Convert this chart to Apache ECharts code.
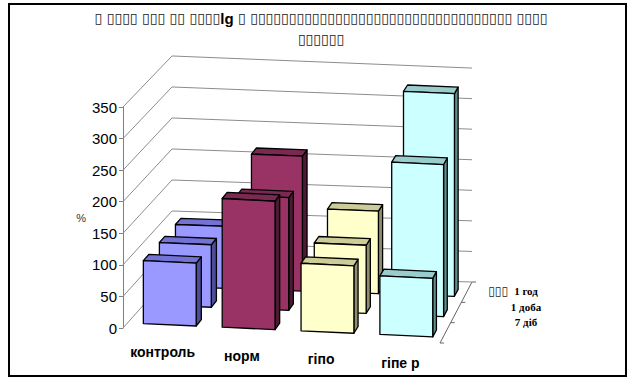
<!DOCTYPE html>
<html>
<head>
<meta charset="utf-8">
<script src="https://cdn.jsdelivr.net/npm/echarts@6/dist/echarts.min.js"></script>
<style>
  html, body { margin: 0; padding: 0; background: #fff; }
  #chart { width: 629px; height: 378px; }
</style>
</head>
<body>
<div id="chart"></div>
<script>
// ---- data -------------------------------------------------------------
const categories = ['контроль', 'норм', 'гіпо', 'гіпе р'];
const depthLabels = ['7 діб', '1 доба', '1 год'];      // front row -> back row
const values7d = [100, 205, 108, 94];
const values1d = [100, 181, 110, 246];
const values1h = [100, 218, 134, 330];
const yTicks = [0, 50, 100, 150, 200, 250, 300, 350];
const titleLine1 = '▯ ▯▯▯▯ ▯▯▯ ▯▯ ▯▯▯▯';
const titleLine1b = ' ▯ ▯▯▯▯▯▯▯▯▯▯▯▯▯▯▯▯▯▯▯▯▯▯▯▯▯▯▯▯▯▯▯▯▯▯ ▯▯▯▯';
const titleLine2 = '▯▯▯▯▯▯';

// ---- styling ----------------------------------------------------------
const frontColors = ['#9999FF', '#993366', '#FFFFCC', '#CCFFFF'];
const topColors   = ['#7373D6', '#7A2952', '#CCCC99', '#99CCCC'];
const sideColors  = ['#4D4D99', '#4D1A33', '#8F8F70', '#5F8F8F'];
const SANS = '"Liberation Sans", Arial, sans-serif';
const SERIF = '"Liberation Serif", "Times New Roman", serif';
const BOXFONT = '"DejaVu Sans", sans-serif';

// Oblique floor: the front edge drops a little to the right, the back
// edge sits up and to the right of it.
const FLOOR = { frontDrop: 15, backLeft: [49, -55], backRight: [32, -61] };
const ROWS = 3;

// px: x on the front plane (from the axis), h: bar height in px, d: depth in rows
function project(cs, px, h, d) {
  const gl = cs.x, gw = cs.width, gb = cs.y + cs.height;
  const X = (px - gl) / gw;
  const t = d / ROWS;
  const fx = gl + X * gw;
  const fy = gb + X * FLOOR.frontDrop;
  const bx = gl + FLOOR.backLeft[0] + X * (gw + FLOOR.backRight[0] - FLOOR.backLeft[0]);
  const by = gb + FLOOR.backLeft[1] + X * (FLOOR.frontDrop + FLOOR.backRight[1] - FLOOR.backLeft[1]);
  const k = 1 - 0.006 * d - 0.014 * X;
  return [fx + (bx - fx) * t, fy + (by - fy) * t - h * k];
}

function poly(points, fill) {
  return {
    type: 'polygon',
    shape: { points: points },
    style: { fill: fill, stroke: '#000', lineWidth: 1.3, lineJoin: 'round' }
  };
}

// one row of boxes; row 0 is the front row
function boxRenderer(row) {
  return function (params, api) {
    const cs = params.coordSys;
    const i = api.value(0);
    const top = api.coord([i, api.value(1)]);
    const base = api.coord([i, 0]);
    const slot = api.size([1, 0])[0];
    const h = base[1] - top[1];
    const x0 = top[0] - slot * 0.30, x1 = top[0] + slot * 0.37;
    const d0 = row + 0.28, d1 = row + 0.62;
    const P = (x, hh, d) => project(cs, x, hh, d);
    return {
      type: 'group',
      children: [
        poly([P(x1, 0, d0), P(x1, 0, d1), P(x1, h, d1), P(x1, h, d0)], sideColors[i]),
        poly([P(x0, h, d0), P(x1, h, d0), P(x1, h, d1), P(x0, h, d1)], topColors[i]),
        poly([P(x0, 0, d0), P(x1, 0, d0), P(x1, h, d0), P(x0, h, d0)], frontColors[i])
      ]
    };
  };
}

// wall grid lines: left wall then back wall
function wallRenderer(params, api) {
  const cs = params.coordSys;
  const gb = cs.y + cs.height;
  const h = gb - api.coord([0, api.value(1)])[1];
  const gl = cs.x, gr = cs.x + cs.width;
  return {
    type: 'polyline',
    shape: { points: [project(cs, gl, h, 0), project(cs, gl, h, ROWS), project(cs, gr, h, ROWS)] },
    style: { stroke: '#8c8c8c', lineWidth: 1, fill: null }
  };
}

// depth axis along the right edge of the floor
function depthAxisRenderer(params, api) {
  const cs = params.coordSys;
  const gr = cs.x + cs.width;
  const a = project(cs, gr, 0, 0), b = project(cs, gr, 0, ROWS);
  const children = [{
    type: 'line',
    shape: { x1: a[0], y1: a[1], x2: b[0], y2: b[1] },
    style: { stroke: '#666', lineWidth: 1 }
  }];
  for (let d = 0; d <= ROWS; d++) {
    const p = project(cs, gr, 0, d);
    children.push({
      type: 'line',
      shape: { x1: p[0], y1: p[1], x2: p[0] + 4, y2: p[1] },
      style: { stroke: '#666', lineWidth: 1 }
    });
  }
  return { type: 'group', children: children };
}

function categoryLabelRenderer(params, api) {
  const cs = params.coordSys;
  const c = api.coord([api.value(0), 0]);
  const p = project(cs, c[0], 0, 0);
  return {
    type: 'text',
    x: p[0], y: p[1] + 22,
    style: {
      text: categories[params.dataIndex],
      fill: '#000', fontSize: 14, fontWeight: 'bold', fontFamily: SANS,
      align: 'center', verticalAlign: 'middle'
    }
  };
}

function depthLabelRenderer(params, api) {
  const cs = params.coordSys;
  const row = params.dataIndex;
  const p = project(cs, cs.x + cs.width, 0, row + 0.5);
  return {
    type: 'text',
    x: cs.x + cs.width + 86,
    y: p[1] - 11 + row * 5,
    style: {
      text: depthLabels[row],
      fill: '#000', fontSize: 11, fontWeight: 'bold', fontFamily: SERIF,
      align: 'center', verticalAlign: 'middle'
    }
  };
}

const chart = echarts.init(document.getElementById('chart'), null, { renderer: 'svg' });

const rowValues = [values7d, values1d, values1h];

const series = [
  {
    type: 'custom', name: 'walls', silent: true, z: 1,
    data: yTicks.map(v => [0, v]),
    renderItem: wallRenderer
  },
  {
    type: 'custom', name: 'depth', silent: true, z: 1,
    data: [[0, 0]],
    renderItem: depthAxisRenderer
  }
];
// back row first so the front rows cover it
for (let r = ROWS - 1; r >= 0; r--) {
  series.push({
    type: 'custom', name: depthLabels[r], z: 2,
    data: rowValues[r].map((v, i) => [i, v]),
    renderItem: boxRenderer(r)
  });
}
series.push({
  type: 'custom', name: 'categories', silent: true, z: 3,
  data: categories.map((c, i) => [i, 0]),
  renderItem: categoryLabelRenderer
});
series.push({
  type: 'custom', name: 'rows', silent: true, z: 3,
  data: depthLabels.map(() => [0, 0]),
  renderItem: depthLabelRenderer
});

const boxText = { fontSize: 14, fontFamily: BOXFONT, fill: '#222', verticalAlign: 'middle' };

chart.setOption({
  animation: false,
  backgroundColor: '#fff',
  grid: { left: 123, top: 107, width: 317, height: 221, containLabel: false },
  xAxis: {
    type: 'category', data: categories, show: false, boundaryGap: true
  },
  yAxis: {
    type: 'value', min: 0, max: 350, interval: 50,
    name: '%', nameLocation: 'middle', nameGap: 37, nameRotate: 0,
    nameTextStyle: { fontSize: 11, color: '#333', fontFamily: SANS },
    axisLine: { show: true, lineStyle: { color: '#808080', width: 1 } },
    axisTick: { show: true, length: 4, inside: false, lineStyle: { color: '#808080' } },
    axisLabel: { fontSize: 15, color: '#000', fontFamily: SANS, margin: 6 },
    splitLine: { show: false }
  },
  graphic: [
    {
      type: 'rect', silent: true,
      shape: { x: 9, y: 4, width: 617, height: 372 },
      style: { fill: null, stroke: '#000', lineWidth: 2 }
    },
    {
      type: 'text', x: 321, y: 18, silent: true,
      style: Object.assign({}, boxText, {
        text: titleLine1 + '{b|lg}' + titleLine1b,
        align: 'center',
        rich: { b: { fontSize: 15, fontWeight: 'bold', fontFamily: SANS, fill: '#000' } }
      })
    },
    {
      type: 'text', x: 321, y: 39, silent: true,
      style: Object.assign({}, boxText, { text: titleLine2, align: 'center' })
    },
    {
      type: 'text', x: 508, y: 291, silent: true,
      style: Object.assign({}, boxText, { fontSize: 12, text: '▯▯▯', align: 'right' })
    }
  ],
  series: series
});
</script>
</body>
</html>
